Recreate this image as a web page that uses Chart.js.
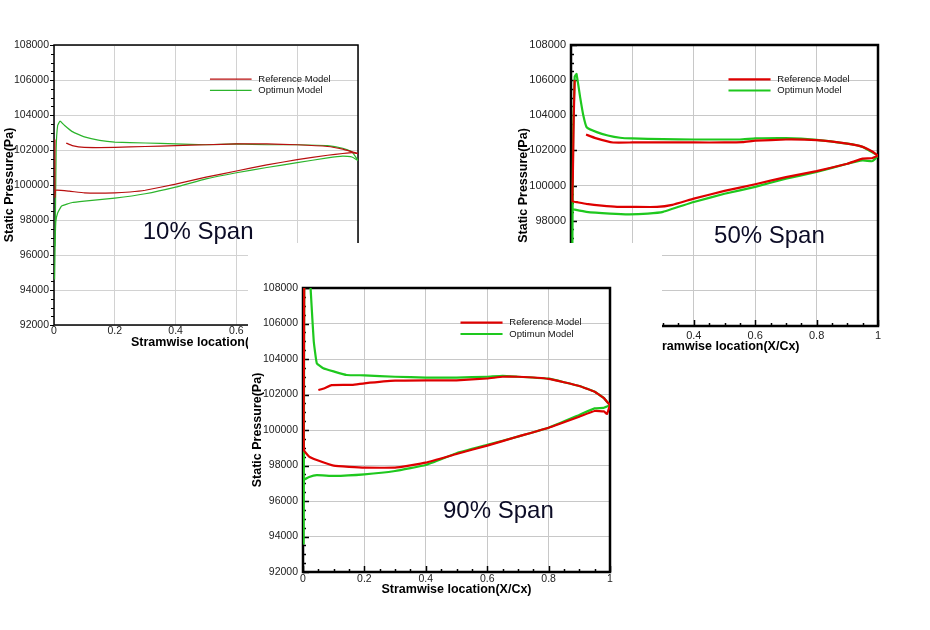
<!DOCTYPE html>
<html>
<head>
<meta charset="utf-8">
<script src="https://cdn.jsdelivr.net/npm/chart.js@4"></script>
<style>
  body { margin: 0; width: 930px; height: 630px; background: #fff; position: relative; overflow: hidden; }
  canvas { position: absolute; background: #fff; }
  #c10 { left: 0; top: 30px; z-index: 1; }
  #c50 { left: 510px; top: 30px; z-index: 2; }
  #c90 { left: 248px; top: 243px; z-index: 3; }
</style>
</head>
<body>
<canvas id="c10" width="370" height="330"></canvas>
<canvas id="c50" width="420" height="330"></canvas>
<canvas id="c90" width="414" height="357"></canvas>
<script>
const SERIES = ['Reference Model', 'Optimun Model'];
const Y_TICKS = [92000, 94000, 96000, 98000, 100000, 102000, 104000, 106000, 108000];
const X_TICKS = [0, 0.2, 0.4, 0.6, 0.8, 1];

// 10% span
const REF10_PS = [[0.04,102400],[0.06,102250],[0.1,102150],[0.2,102150],[0.3,102200],[0.4,102250],[0.5,102300],[0.6,102350],[0.7,102350],[0.8,102300],[0.9,102200],[0.95,102050],[0.98,101900],[1,101800]];
const REF10_SS = [[0.003,102600],[0.003,99300],[0.006,99700],[0.05,99650],[0.1,99550],[0.2,99550],[0.25,99600],[0.3,99700],[0.4,100050],[0.5,100450],[0.6,100800],[0.7,101150],[0.8,101450],[0.9,101700],[0.95,101800],[0.98,101850],[1,101800]];
const OPT10_PS = [[1,101400],[0.98,101900],[0.95,102100],[0.9,102250],[0.8,102300],[0.7,102300],[0.6,102350],[0.5,102300],[0.4,102350],[0.3,102400],[0.2,102450],[0.15,102550],[0.1,102750],[0.06,103050],[0.035,103400],[0.02,103650],[0.012,103400],[0.007,102000],[0.004,97000],[0.002,94600]];
const OPT10_SS = [[0.003,96500],[0.006,97900],[0.012,98400],[0.025,98800],[0.06,99000],[0.1,99080],[0.2,99250],[0.3,99500],[0.4,99880],[0.5,100350],[0.6,100700],[0.7,101000],[0.8,101280],[0.9,101550],[0.95,101650],[0.98,101600],[1,101400]];

// 50% span
const REF50_PS = [[0.049,102900],[0.08,102700],[0.137,102450],[0.2,102450],[0.3,102450],[0.4,102450],[0.5,102450],[0.56,102470],[0.6,102550],[0.7,102620],[0.8,102580],[0.9,102380],[0.95,102200],[0.98,101950],[1,101700]];
const REF50_SS = [[0.012,106000],[0.009,104000],[0.006,100500],[0.005,99100],[0.02,99050],[0.05,98950],[0.1,98850],[0.15,98780],[0.2,98780],[0.28,98780],[0.33,98900],[0.4,99250],[0.5,99690],[0.6,100070],[0.7,100480],[0.8,100820],[0.9,101240],[0.95,101530],[0.98,101550],[1,101700]];
const OPT50_PS = [[1,101700],[0.98,101900],[0.95,102200],[0.9,102380],[0.8,102600],[0.7,102700],[0.6,102680],[0.55,102620],[0.4,102620],[0.3,102640],[0.2,102680],[0.16,102720],[0.12,102850],[0.084,103040],[0.051,103320],[0.04,104000],[0.03,105000],[0.018,106350],[0.012,106200],[0.007,103000],[0.005,98000],[0.004,95500]];
const OPT50_SS = [[0.006,98650],[0.05,98500],[0.127,98400],[0.19,98360],[0.25,98400],[0.3,98500],[0.4,99060],[0.5,99530],[0.6,99920],[0.7,100390],[0.8,100770],[0.9,101240],[0.95,101430],[0.98,101380],[0.99,101500],[1,101700]];

// 90% span
const REF90_PS = [[0.05,102250],[0.07,102350],[0.093,102530],[0.16,102540],[0.2,102630],[0.3,102780],[0.4,102800],[0.5,102800],[0.6,102900],[0.65,103000],[0.7,103000],[0.8,102880],[0.9,102480],[0.95,102150],[0.98,101800],[1,101400]];
const REF90_SS = [[0.004,108500],[0.003,104000],[0.003,98870],[0.02,98500],[0.045,98310],[0.1,97990],[0.2,97880],[0.3,97880],[0.4,98160],[0.5,98650],[0.6,99120],[0.7,99630],[0.8,100130],[0.9,100750],[0.95,101070],[0.98,101050],[0.99,100900],[1,101400]];
const OPT90_PS = [[1,101400],[0.98,101800],[0.95,102160],[0.9,102480],[0.8,102890],[0.7,103000],[0.65,103050],[0.6,103000],[0.5,102950],[0.4,102950],[0.3,103000],[0.2,103080],[0.142,103100],[0.1,103300],[0.066,103480],[0.045,103760],[0.035,105000],[0.028,107000],[0.023,108500]];
const OPT90_SS = [[0.004,108500],[0.003,100000],[0.002,93600],[0.003,97180],[0.02,97350],[0.045,97460],[0.1,97410],[0.2,97500],[0.3,97690],[0.4,98030],[0.5,98690],[0.6,99160],[0.7,99630],[0.8,100130],[0.9,100850],[0.95,101220],[0.98,101250],[1,101400]];

const FONT = '"Liberation Sans", Arial, sans-serif';

const framePlugin = {
  id: 'frame',
  beforeDatasetsDraw(chart, args, o) {
    const { ctx, chartArea: a, scales: { x, y } } = chart;
    ctx.save();
    ctx.strokeStyle = '#000';
    ctx.lineWidth = o.tickWidth;
    const dir = o.inward ? 1 : -1;
    for (let v = Y_TICKS[0]; v <= Y_TICKS[Y_TICKS.length - 1]; v += 500) {
      const py = Math.round(y.getPixelForValue(v)) + 0.5;
      const len = v % 2000 === 0 ? o.major : o.minor;
      ctx.beginPath(); ctx.moveTo(a.left, py); ctx.lineTo(a.left + dir * len, py); ctx.stroke();
    }
    if (o.xTicks) {
      for (let i = 0; i <= 20; i++) {
        const px = Math.round(x.getPixelForValue(i / 20)) + 0.5;
        const len = i % 4 === 0 ? o.major : o.minor;
        ctx.beginPath(); ctx.moveTo(px, a.bottom); ctx.lineTo(px, a.bottom - len); ctx.stroke();
      }
    }
    ctx.lineWidth = o.width;
    ctx.strokeRect(a.left, a.top, a.width, a.height);
    ctx.restore();
  },
  afterDatasetsDraw(chart, args, o) {
    const { ctx, chartArea: a } = chart;
    ctx.save();
    // legend
    SERIES.forEach((name, i) => {
      const yy = a.top + a.height * (0.122 + i * 0.04);
      ctx.strokeStyle = o.colors[i];
      ctx.lineWidth = o.lineWidth;
      ctx.beginPath();
      ctx.moveTo(a.left + a.width * 0.513, yy);
      ctx.lineTo(a.left + a.width * 0.65, yy);
      ctx.stroke();
      ctx.fillStyle = '#111';
      ctx.font = '9.5px ' + FONT;
      ctx.textBaseline = 'middle';
      ctx.textAlign = 'left';
      ctx.fillText(name, a.left + a.width * 0.672, yy);
    });
    // span label
    ctx.fillStyle = '#0c0c26';
    ctx.font = '24px ' + FONT;
    ctx.textBaseline = 'middle';
    ctx.fillText(o.span, a.left + a.width * o.spanX, a.top + a.height * o.spanY);
    ctx.restore();
  }
};

function makePanel(id, p) {
  const ds = (pts, color) => ({
    data: pts.map(([x, y]) => ({ x, y })),
    borderColor: color,
    borderWidth: p.lineWidth,
    pointRadius: 0,
    showLine: true,
    fill: false,
    tension: 0.1
  });
  new Chart(document.getElementById(id), {
    type: 'scatter',
    data: {
      datasets: [
        ds(p.ref[0], p.colors[0]), ds(p.ref[1], p.colors[0]),
        ds(p.opt[0], p.colors[1]), ds(p.opt[1], p.colors[1])
      ]
    },
    plugins: [framePlugin],
    options: {
      responsive: false,
      animation: false,
      layout: { padding: p.padding },
      plugins: {
        legend: { display: false },
        tooltip: { enabled: false },
        frame: {
          width: p.frameWidth, tickWidth: p.tickWidth, inward: p.inward, xTicks: p.inward,
          major: p.major, minor: p.minor, colors: p.colors, lineWidth: p.lineWidth,
          span: p.span, spanX: p.spanX, spanY: p.spanY
        }
      },
      scales: {
        x: {
          type: 'linear', min: 0, max: 1,
          afterBuildTicks: s => { s.ticks = X_TICKS.map(v => ({ value: v })); },
          afterFit: s => { s.height = p.xh; },
          grid: { color: p.grid, drawTicks: false },
          border: { display: false },
          ticks: { color: '#222', padding: p.xPad, maxRotation: 0, autoSkip: false,
                   font: { family: FONT, size: p.tickSize }, callback: v => String(+v.toFixed(1)) },
          title: { display: true, text: 'Stramwise location(X/Cx)', color: '#000', padding: { top: 0, bottom: 0 },
                   font: { family: FONT, size: 12.5, weight: 'bold' } }
        },
        y: {
          type: 'linear', min: 92000, max: 108000,
          afterBuildTicks: s => { s.ticks = Y_TICKS.map(v => ({ value: v })); },
          afterFit: s => { s.width = p.yw; },
          grid: { color: p.grid, drawTicks: false },
          border: { display: false },
          ticks: { color: '#222', padding: 5, font: { family: FONT, size: p.tickSize }, callback: v => String(v) },
          title: { display: true, text: 'Static Pressure(Pa)', color: '#000', padding: { top: p.yTitlePad, bottom: 0 },
                   font: { family: FONT, size: 12.5, weight: 'bold' } }
        }
      }
    }
  });
}

makePanel('c10', {
  ref: [REF10_PS, REF10_SS], opt: [OPT10_PS, OPT10_SS],
  colors: ['#b80f0f', '#2cb42c'], lineWidth: 1.2, frameWidth: 1.5, tickWidth: 1,
  inward: false, major: 4, minor: 3, grid: '#d2d2d2',
  padding: { left: 0, top: 15, right: 12, bottom: 10 }, yw: 54, xh: 25, xPad: 0, yTitlePad: 2, tickSize: 10.5,
  span: '10% Span', spanX: 0.292, spanY: 0.668
});

makePanel('c50', {
  ref: [REF50_PS, REF50_SS], opt: [OPT50_PS, OPT50_SS],
  colors: ['#de0000', '#1ec81e'], lineWidth: 2.2, frameWidth: 2.5, tickWidth: 1.5,
  inward: true, major: 6, minor: 3, grid: '#c8c8c8',
  padding: { left: 0, top: 15, right: 52, bottom: 6 }, yw: 61, xh: 28, xPad: 3, yTitlePad: 6, tickSize: 11,
  span: '50% Span', spanX: 0.466, spanY: 0.682
});

makePanel('c90', {
  ref: [REF90_PS, REF90_SS], opt: [OPT90_PS, OPT90_SS],
  colors: ['#de0000', '#1ec81e'], lineWidth: 2.2, frameWidth: 2.5, tickWidth: 1.5,
  inward: true, major: 6, minor: 3, grid: '#c8c8c8',
  padding: { left: 0, top: 45, right: 52, bottom: 3 }, yw: 55, xh: 25, xPad: 1, yTitlePad: 2, tickSize: 10.5,
  span: '90% Span', spanX: 0.456, spanY: 0.785
});
</script>
</body>
</html>
